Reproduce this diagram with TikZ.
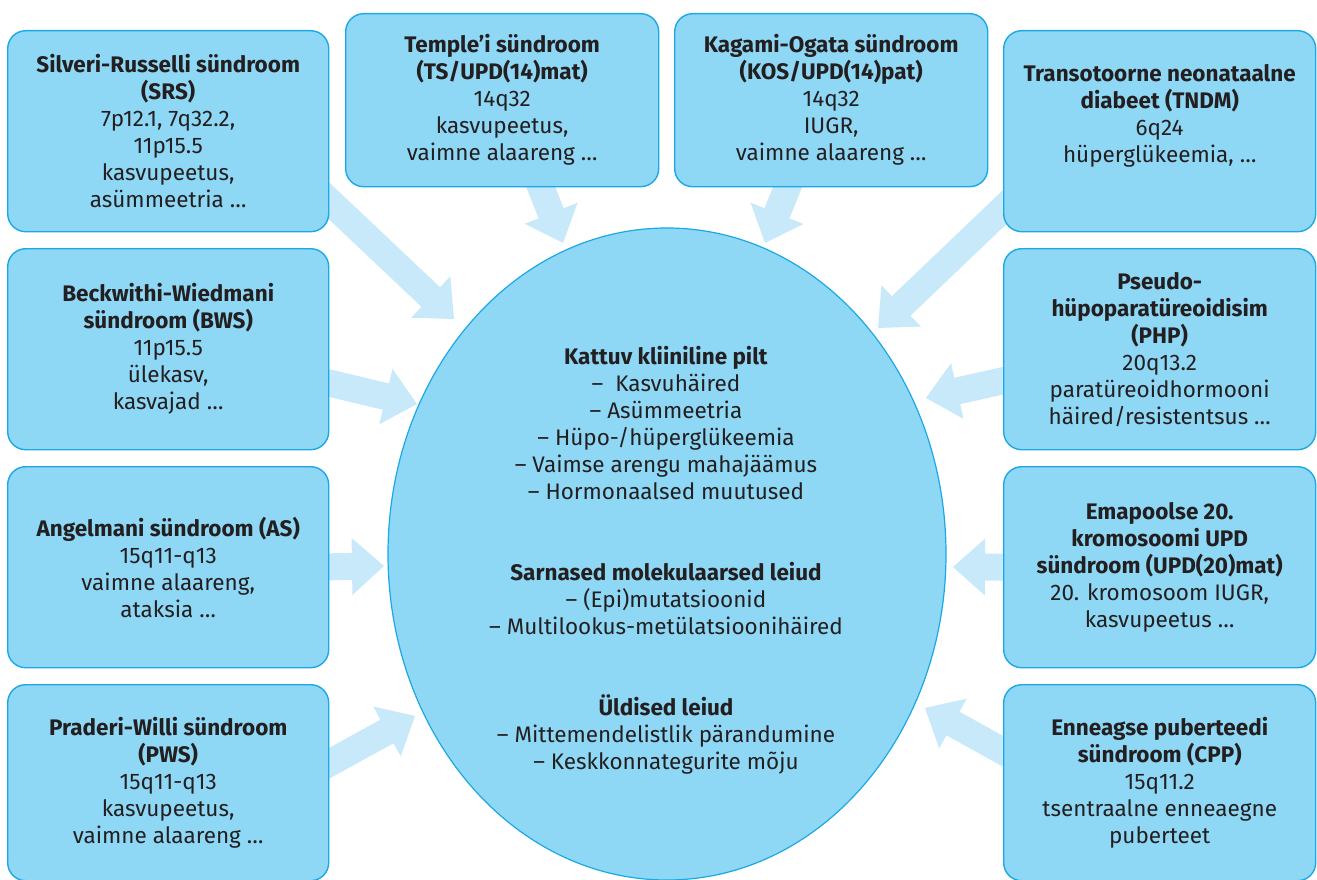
\documentclass[tikz,border=0pt]{standalone}
\usepackage{fontspec}
\setmainfont{Fira Sans}
\usetikzlibrary{calc,backgrounds,shapes.geometric}
\definecolor{boxfill}{RGB}{142,216,246}
\definecolor{boxline}{RGB}{27,168,228}
\definecolor{arrowfill}{RGB}{199,233,249}
\definecolor{txt}{RGB}{35,31,32}
\newcommand\diagfont{\fontsize{22.5pt}{27pt}\selectfont}
\newcommand\blockarrow[2]{%
  \fill[arrowfill] ($(#1)!13.5pt!90:(#2)$)
    -- ($($(#2)!32pt!(#1)$)!13.5pt!-90:(#1)$)
    -- ($($(#2)!32pt!(#1)$)!28.5pt!-90:(#1)$)
    -- (#2)
    -- ($($(#2)!32pt!(#1)$)!28.5pt!90:(#1)$)
    -- ($($(#2)!32pt!(#1)$)!13.5pt!90:(#1)$)
    -- ($(#1)!13.5pt!-90:(#2)$) -- cycle;}
\begin{document}
\begin{tikzpicture}[x=1pt,y=-1pt,
  box/.style={draw=boxline, line width=1.4pt, fill=boxfill, rounded corners=18pt,
    anchor=north west, align=center, inner sep=0pt, text=txt, font=\diagfont},
  lbox/.style={box, minimum width=321pt, minimum height=201pt},
  rbox/.style={box, minimum width=312pt, minimum height=201pt},
  tbox/.style={box, minimum width=313pt, minimum height=173pt}]
\useasboundingbox (0,0) rectangle (1317,880);

% left column
\node[lbox] (srs) at (7,30) {\textbf{Silveri-Russelli sündroom}\\ \textbf{(SRS)}\\ 7p12.1, 7q32.2,\\ 11p15.5\\ kasvupeetus,\\ asümmeetria …};
\node[lbox] (bws) at (7,248) {\textbf{Beckwithi-Wiedmani}\\ \textbf{sündroom (BWS)}\\ 11p15.5\\ ülekasv,\\ kasvajad …};
\node[lbox] (as) at (7,466) {\textbf{Angelmani sündroom (AS)}\\ 15q11-q13\\ vaimne alaareng,\\ ataksia …};
\node[lbox, minimum height=196pt] (pws) at (7,684) {\textbf{Praderi-Willi sündroom}\\ \textbf{(PWS)}\\ 15q11-q13\\ kasvupeetus,\\ vaimne alaareng …};

% top row
\node[tbox] (temple) at (345,13) {\textbf{Temple’i sündroom}\\ \textbf{(TS/UPD(14)mat)}\\ 14q32\\ kasvupeetus,\\ vaimne alaareng …};
\node[tbox] (kagami) at (674,13) {\textbf{Kagami-Ogata sündroom}\\ \textbf{(KOS/UPD(14)pat)}\\ 14q32\\ IUGR,\\ vaimne alaareng …};

% right column
\node[rbox] (tndm) at (1003,30) {\textbf{Transotoorne neonataalne}\\ \textbf{diabeet (TNDM)}\\ 6q24\\ hüperglükeemia, …\\ \strut};
\node[rbox] (php) at (1003,248) {\textbf{Pseudo-}\\ \textbf{hüpoparatüreoidisim}\\ \textbf{(PHP)}\\ 20q13.2\\ paratüreoidhormooni\\ häired/resistentsus …};
\node[rbox] (upd) at (1003,466) {\textbf{Emapoolse 20.}\\ \textbf{kromosoomi UPD}\\ \textbf{sündroom (UPD(20)mat)}\\ 20. kromosoom IUGR,\\ kasvupeetus …};
\node[rbox, minimum height=196pt] (cpp) at (1003,684) {\textbf{Enneagse puberteedi}\\ \textbf{sündroom (CPP)}\\ 15q11.2\\ tsentraalne enneaegne\\ puberteet};

% centre
\node[ellipse, draw=boxline, line width=1.2pt, fill=boxfill, minimum width=558pt,
  minimum height=652pt, inner sep=0pt] (core) at (667,554) {};
\node[align=center, text=txt, font=\diagfont, inner sep=0pt] (coretext) at (666,560)
  {\textbf{Kattuv kliiniline pilt}\\ –\ \ Kasvuhäired\\ – Asümmeetria\\ – Hüpo-/hüperglükeemia\\
   – Vaimse arengu mahajäämus\\ – Hormonaalsed muutused\\[54pt]
   \textbf{Sarnased molekulaarsed leiud}\\ – (Epi)mutatsioonid\\ – Multilookus-metülatsioonihäired\\[54pt]
   \textbf{Üldised leiud}\\ – Mittemendelistlik pärandumine\\ – Keskkonnategurite mõju};

% arrow tips
\coordinate (p1) at (454,319);
\coordinate (p2) at (417,404);
\coordinate (p3) at (384,566);
\coordinate (p4) at (415,716);
\coordinate (p5) at (563,243);
\coordinate (p6) at (765,243);
\coordinate (p7) at (878,328);
\coordinate (p8) at (926,398);
\coordinate (p9) at (953,567);
\coordinate (p10) at (925,708);

\begin{scope}[on background layer]
\blockarrow{[xshift=-28pt,yshift=-43.5pt]srs.east}{p1}
\blockarrow{[xshift=-29pt,yshift=-27pt]bws.east}{p2}
\blockarrow{[xshift=-28pt]as.east}{p3}
\blockarrow{[xshift=-26.5pt,yshift=5pt]pws.east}{p4}
\blockarrow{[xshift=27.5pt,yshift=28pt]temple.south}{p5}
\blockarrow{[xshift=-32.5pt,yshift=28pt]kagami.south}{p6}
\blockarrow{[xshift=22pt,yshift=-56.5pt]tndm.west}{p7}
\blockarrow{[xshift=29pt,yshift=-25pt]php.west}{p8}
\blockarrow{[xshift=28pt]upd.west}{p9}
\blockarrow{[xshift=26pt,yshift=17pt]cpp.west}{p10}
\end{scope}
\end{tikzpicture}
\end{document}
